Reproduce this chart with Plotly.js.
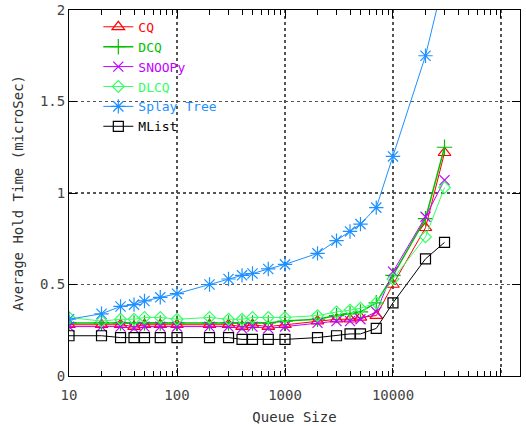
<!DOCTYPE html>
<html>
<head>
<meta charset="utf-8">
<script src="https://cdn.plot.ly/plotly-3.0.1.min.js"></script>
<style>html,body{margin:0;padding:0;background:#fff;}#chart{width:526px;height:426px;}</style>
</head>
<body>
<div id="chart"></div>
<script>
var queueSize = [10,20,30,40,50,70,100,200,300,400,500,700,1000,2000,3000,4000,5000,7000,10000,20000,30000];
var cq     = [0.28,0.28,0.28,0.27,0.28,0.28,0.28,0.28,0.28,0.27,0.28,0.27,0.28,0.30,0.31,0.31,0.32,0.33,0.50,0.81,1.22];
var dcq    = [0.29,0.29,0.29,0.29,0.29,0.29,0.29,0.29,0.29,0.29,0.29,0.29,0.30,0.31,0.33,0.34,0.35,0.40,0.55,0.86,1.25];
var snoopy = [0.27,0.27,0.27,0.26,0.27,0.27,0.27,0.27,0.27,0.26,0.27,0.26,0.27,0.29,0.30,0.30,0.31,0.35,0.57,0.87,1.07];
var dlcq   = [0.32,0.30,0.31,0.31,0.32,0.32,0.31,0.32,0.31,0.31,0.32,0.32,0.32,0.33,0.35,0.36,0.37,0.40,0.53,0.76,1.03];
var splay  = [0.31,0.34,0.38,0.39,0.41,0.43,0.45,0.50,0.53,0.55,0.56,0.585,0.61,0.67,0.74,0.79,0.83,0.92,1.20,1.75,2.18];
var mlist  = [0.22,0.22,0.21,0.21,0.21,0.21,0.21,0.21,0.21,0.20,0.20,0.20,0.20,0.21,0.22,0.23,0.23,0.26,0.40,0.64,0.73];

var seriesNames = ['CQ','DCQ','SNOOPy','DLCQ','Splay Tree','MList'];
var seriesData = [cq, dcq, snoopy, dlcq, splay, mlist];
var colors = ['#ff0000','#00c000','#c000ff','#33ff66','#1e90ff','#000000'];
var symbols = ['triangle-up-open','cross-thin-open','x-thin-open','diamond-open','asterisk-open','square-open'];
var sizes = [11,11,10,9,12,10];
var widths = [1,1.5,1,1,1,1];

var FONT = 'DejaVu Sans Mono, monospace';
var traces = seriesNames.map(function(n,i){
  return {
    x: queueSize, y: seriesData[i], type:'scatter', mode:'lines+markers',
    name: '<span style="color:'+colors[i]+'">'+n+'</span>',
    line:{color:colors[i], width:widths[i]},
    marker:{symbol:symbols[i], size:sizes[i], color:colors[i], line:{color:colors[i], width:1.2}},
    cliponaxis:true
  };
});

var layout = {
  width:526, height:426,
  margin:{l:69, r:6, t:10, b:50},
  paper_bgcolor:'#fff', plot_bgcolor:'#fff',
  font:{family:FONT, size:14, color:'#333'},
  showlegend:true,
  legend:{x:0.065, y:0.995, xanchor:'left', yanchor:'top', bgcolor:'rgba(0,0,0,0)',
          font:{family:FONT, size:13}, tracegroupgap:0},
  xaxis:{type:'log', range:[1, 5.176], showline:true, linecolor:'#000', linewidth:1, mirror:'allticks',
         ticks:'inside', ticklen:8, tickcolor:'#000', tickvals:[10,100,1000,10000,100000],
         ticktext:['10','100','1000','10000','100000'], ticklabelstandoff:6,
         showgrid:true, gridcolor:'#555', griddash:'dot', gridwidth:1.5, zeroline:false,
         minor:{ticks:'inside', ticklen:5, tickcolor:'#000', dtick:'D1', showgrid:false},
         title:{text:'Queue Size', font:{family:FONT, size:14, color:'#333'}, standoff:10},
         tickfont:{family:FONT, size:14, color:'#444'}},
  yaxis:{range:[0,2], showline:true, linecolor:'#000', linewidth:1, mirror:'allticks',
         ticks:'inside', ticklen:8, tickcolor:'#000', tickvals:[0,0.5,1,1.5,2],
         ticktext:['0','0.5','1','1.5','2'],
         showgrid:true, gridcolor:'#555', griddash:'dot', gridwidth:1.5, zeroline:false,
         title:{text:'Average Hold Time (microSec)', font:{family:FONT, size:14, color:'#333'}, standoff:13},
         tickfont:{family:FONT, size:14, color:'#444'}}
};
Plotly.newPlot('chart', traces, layout, {displayModeBar:false, staticPlot:true});
</script>
</body>
</html>
